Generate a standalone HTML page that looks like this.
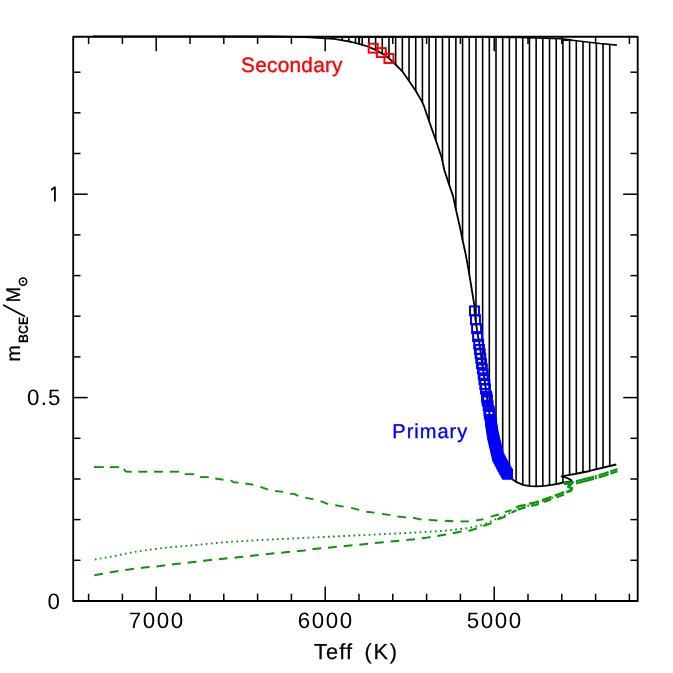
<!DOCTYPE html>
<html><head><meta charset="utf-8"><title>plot</title>
<style>
html,body{margin:0;padding:0;background:#fff;}
body{width:673px;height:673px;overflow:hidden;}
svg{display:block;font-family:"Liberation Sans",sans-serif;text-rendering:geometricPrecision;will-change:transform;}
</style></head><body>
<svg width="673" height="673" viewBox="0 0 673 673">
<rect width="673" height="673" fill="#fff"/>

<g stroke="#000" stroke-width="1.6" fill="none">
<line x1="342.14" y1="36.9" x2="342.14" y2="40.2"/>
<line x1="348.83" y1="36.9" x2="348.83" y2="41.5"/>
<line x1="355.52" y1="36.9" x2="355.52" y2="43.0"/>
<line x1="362.21" y1="36.9" x2="362.21" y2="44.8"/>
<line x1="368.90" y1="36.9" x2="368.90" y2="47.0"/>
<line x1="375.59" y1="36.9" x2="375.59" y2="50.0"/>
<line x1="382.28" y1="36.9" x2="382.28" y2="53.7"/>
<line x1="388.97" y1="36.9" x2="388.97" y2="58.3"/>
<line x1="395.66" y1="36.9" x2="395.66" y2="64.7"/>
<line x1="402.35" y1="36.9" x2="402.35" y2="71.4"/>
<line x1="409.04" y1="36.9" x2="409.04" y2="81.0"/>
<line x1="415.73" y1="36.9" x2="415.73" y2="90.8"/>
<line x1="422.42" y1="36.9" x2="422.42" y2="102.6"/>
<line x1="429.11" y1="36.9" x2="429.11" y2="121.2"/>
<line x1="435.80" y1="36.9" x2="435.80" y2="140.3"/>
<line x1="442.49" y1="37.0" x2="442.49" y2="161.1"/>
<line x1="449.18" y1="37.0" x2="449.18" y2="184.8"/>
<line x1="455.87" y1="37.0" x2="455.87" y2="209.5"/>
<line x1="462.56" y1="37.0" x2="462.56" y2="240.0"/>
<line x1="469.25" y1="37.0" x2="469.25" y2="274.1"/>
<line x1="475.94" y1="37.0" x2="475.94" y2="322.8"/>
<line x1="482.63" y1="37.0" x2="482.63" y2="366.5"/>
<line x1="489.32" y1="37.1" x2="489.32" y2="412.4"/>
<line x1="496.01" y1="37.2" x2="496.01" y2="446.6"/>
<line x1="502.70" y1="37.3" x2="502.70" y2="463.8"/>
<line x1="509.39" y1="37.4" x2="509.39" y2="476.2"/>
<line x1="516.08" y1="37.5" x2="516.08" y2="481.9"/>
<line x1="522.77" y1="37.6" x2="522.77" y2="484.7"/>
<line x1="529.46" y1="37.8" x2="529.46" y2="486.1"/>
<line x1="536.15" y1="38.0" x2="536.15" y2="486.4"/>
<line x1="542.84" y1="38.1" x2="542.84" y2="486.0"/>
<line x1="549.53" y1="38.4" x2="549.53" y2="485.2"/>
<line x1="556.22" y1="38.6" x2="556.22" y2="484.0"/>
<line x1="562.91" y1="39.0" x2="562.91" y2="482.6"/>
<line x1="569.60" y1="39.7" x2="569.60" y2="474.8"/>
<line x1="576.29" y1="40.6" x2="576.29" y2="473.7"/>
<line x1="582.98" y1="41.4" x2="582.98" y2="472.4"/>
<line x1="589.67" y1="42.2" x2="589.67" y2="471.0"/>
<line x1="596.36" y1="43.0" x2="596.36" y2="469.3"/>
<line x1="603.05" y1="43.8" x2="603.05" y2="467.7"/>
<line x1="609.74" y1="44.4" x2="609.74" y2="466.1"/>
<line x1="359.30" y1="36.9" x2="359.30" y2="43.9"/>
</g>
<polyline points="93.0,36.4 200.0,36.4 270.0,36.5 295.0,36.9 310.0,37.4 318.0,37.8 325.0,38.4 333.9,38.9 342.8,40.3 351.7,42.0 360.7,44.3 367.8,46.5 374.9,49.6 383.8,54.5 389.0,58.3 394.0,63.0 402.3,71.3 407.7,79.0 415.7,90.7 421.9,101.4 424.2,106.7 428.4,119.2 435.3,138.8 441.9,158.2 444.3,170.0 448.7,183.4 453.0,195.9 455.4,207.4 460.3,228.8 462.4,239.3 465.7,254.2 468.9,272.0 474.5,306.2 474.5,310.9 475.5,319.7 476.8,328.8 478.1,336.6 479.1,341.8 479.8,346.0 480.4,350.1 481.0,354.8 481.6,359.5 482.3,364.2 486.0,390.0 489.7,415.0 493.0,435.8 498.8,456.6 505.5,469.0 507.6,474.3 512.5,479.6 516.6,482.2 522.9,484.8 530.2,486.2 537.4,486.4 544.7,485.9 552.0,484.8 559.3,483.5 563.1,482.6 567.5,481.9 570.4,481.4 571.4,480.6 570.8,479.8 568.6,478.7 565.5,477.5 561.6,476.3 569.6,474.8 574.7,474.0 589.8,471.0 592.6,470.2 616.3,464.5" fill="none" stroke="#000" stroke-width="1.8" stroke-linejoin="round"/>
<polyline points="330.0,36.9 400.0,36.9 480.0,37.0 520.0,37.5 545.0,38.2 561.0,38.8 568.0,39.6 571.0,39.9 563.5,40.1 572.0,40.2 600.0,43.5 616.9,45.1" fill="none" stroke="#000" stroke-width="1.6" stroke-linejoin="round"/>
<g fill="none" stroke="#0a960a" stroke-linejoin="round">
<polyline points="93.9,467.1 103.8,467.1" stroke-width="1.9"/>
<polyline points="109.8,467.1 119.2,467.1" stroke-width="1.9"/>
<polyline points="124.0,468.8 125.6,471.6 131.7,471.7" stroke-width="1.9"/>
<polyline points="138.3,471.7 147.4,471.7" stroke-width="1.9"/>
<polyline points="154.0,471.7 162.9,471.7" stroke-width="1.9"/>
<polyline points="169.7,471.7 179.0,471.7" stroke-width="1.9"/>
<polyline points="184.7,474.1 194.1,474.3" stroke-width="1.9"/>
<polyline points="199.8,477.1 208.7,477.1" stroke-width="1.9"/>
<polyline points="215.3,478.5 223.5,479.8" stroke-width="1.9"/>
<polyline points="230.7,480.3 233.5,482.2 238.5,482.6" stroke-width="1.9"/>
<polyline points="245.3,483.5 253.3,484.8" stroke-width="1.9"/>
<polyline points="260.4,486.9 268.1,489.6" stroke-width="1.9"/>
<polyline points="275.2,491.0 283.1,491.9" stroke-width="1.9"/>
<polyline points="290.2,493.7 294.0,493.9 298.2,495.8" stroke-width="1.9"/>
<polyline points="305.3,497.6 313.4,499.4" stroke-width="1.9"/>
<polyline points="320.5,501.2 328.2,504.2" stroke-width="1.9"/>
<polyline points="335.3,505.3 343.7,506.6" stroke-width="1.9"/>
<polyline points="351.2,507.8 359.2,509.9" stroke-width="1.9"/>
<polyline points="366.3,511.7 374.5,512.6" stroke-width="1.9"/>
<polyline points="382.0,513.9 390.4,515.1" stroke-width="1.9"/>
<polyline points="397.5,516.5 406.1,517.4" stroke-width="1.9"/>
<polyline points="413.2,517.8 421.6,519.6" stroke-width="1.9"/>
<polyline points="428.7,519.9 437.6,520.5" stroke-width="1.9"/>
<polyline points="444.8,520.8 453.3,521.2" stroke-width="1.9"/>
<polyline points="460.5,521.4 468.8,521.4" stroke-width="1.9"/>
<polyline points="476.0,520.4 483.4,519.2" stroke-width="1.9"/>
<polyline points="490.7,516.6 498.8,514.5" stroke-width="1.9"/>
<polyline points="504.8,512.1 511.5,510.1" stroke-width="1.9"/>
<polyline points="94.8,559.6 115.7,555.7 133.5,552.1 151.3,549.4 169.2,547.3 187.0,545.9 200.0,544.6 225.7,542.1 261.3,540.0 305.9,537.8 340.0,536.2 380.0,534.3 417.7,532.4 445.7,530.6 468.8,528.0 481.3,525.3 488.5,522.6 496.0,519.0 504.8,515.2 511.5,512.4 519.9,508.2 535.5,503.7 548.0,499.2 559.9,495.0 566.2,492.3" stroke-width="1.9" stroke-dasharray="1.7 3.4"/>
<polyline points="94.3,575.3 113.9,571.7 129.0,569.4 144.2,567.6 160.2,566.0 175.4,564.0 191.4,562.3 207.8,560.3 238.1,557.3 270.2,553.7 304.1,550.5 310.7,549.3 350.0,545.6 380.0,542.6 414.1,539.2 427.8,537.4 445.7,534.6 461.7,531.5 470.0,530.5 476.0,528.8 482.7,526.1 490.7,523.5 496.0,519.9 504.8,516.8 510.1,513.4 514.2,511.3 516.5,510.4" stroke-width="2.05" stroke-dasharray="8.8 6.9"/>
<polyline points="516.2,507.4 519.9,505.9 524.8,505.0 535.5,502.4 548.0,498.0 559.9,493.8 566.2,491.0" stroke-width="2.25" stroke-dasharray="10 3.5"/>
<polyline points="518.3,509.8 522.0,508.2 535.5,505.0 548.0,500.4 559.4,496.2 566.2,493.6" stroke-width="2.25" stroke-dasharray="7.8 5.7"/>
<polyline points="563.9,483.5 572.6,482.4 568.4,486.8 572.0,488.3 570.4,490.9 566.4,492.0" stroke-width="2.8"/>
<polyline points="575.9,481.3 592.6,477.1 604.5,473.5 617.5,469.0" stroke-width="2.2" stroke-dasharray="18.8 1.0 1.8 1.8 10.6 1.8 7.6 10"/>
<polyline points="575.9,483.5 592.6,479.3 604.5,475.7 617.5,471.2" stroke-width="2.2" stroke-dasharray="18.8 1.0 1.8 1.8 10.6 1.8 7.6 10"/>
</g>
<rect x="73.2" y="36.7" width="564.5" height="564.3" fill="none" stroke="#000" stroke-width="1.85" stroke-linejoin="round"/>
<g stroke="#000" stroke-width="1.5">
<line x1="88.6" y1="601.0" x2="88.6" y2="593.7"/><line x1="88.6" y1="36.7" x2="88.6" y2="44.0"/>
<line x1="122.4" y1="601.0" x2="122.4" y2="593.7"/><line x1="122.4" y1="36.7" x2="122.4" y2="44.0"/>
<line x1="156.2" y1="601.0" x2="156.2" y2="586.5"/><line x1="156.2" y1="36.7" x2="156.2" y2="51.2"/>
<line x1="190.0" y1="601.0" x2="190.0" y2="593.7"/><line x1="190.0" y1="36.7" x2="190.0" y2="44.0"/>
<line x1="223.8" y1="601.0" x2="223.8" y2="593.7"/><line x1="223.8" y1="36.7" x2="223.8" y2="44.0"/>
<line x1="257.6" y1="601.0" x2="257.6" y2="593.7"/><line x1="257.6" y1="36.7" x2="257.6" y2="44.0"/>
<line x1="291.4" y1="601.0" x2="291.4" y2="593.7"/><line x1="291.4" y1="36.7" x2="291.4" y2="44.0"/>
<line x1="325.2" y1="601.0" x2="325.2" y2="586.5"/><line x1="325.2" y1="36.7" x2="325.2" y2="51.2"/>
<line x1="359.0" y1="601.0" x2="359.0" y2="593.7"/><line x1="359.0" y1="36.7" x2="359.0" y2="44.0"/>
<line x1="392.8" y1="601.0" x2="392.8" y2="593.7"/><line x1="392.8" y1="36.7" x2="392.8" y2="44.0"/>
<line x1="426.6" y1="601.0" x2="426.6" y2="593.7"/><line x1="426.6" y1="36.7" x2="426.6" y2="44.0"/>
<line x1="460.4" y1="601.0" x2="460.4" y2="593.7"/><line x1="460.4" y1="36.7" x2="460.4" y2="44.0"/>
<line x1="494.2" y1="601.0" x2="494.2" y2="586.5"/><line x1="494.2" y1="36.7" x2="494.2" y2="51.2"/>
<line x1="528.0" y1="601.0" x2="528.0" y2="593.7"/><line x1="528.0" y1="36.7" x2="528.0" y2="44.0"/>
<line x1="561.8" y1="601.0" x2="561.8" y2="593.7"/><line x1="561.8" y1="36.7" x2="561.8" y2="44.0"/>
<line x1="595.6" y1="601.0" x2="595.6" y2="593.7"/><line x1="595.6" y1="36.7" x2="595.6" y2="44.0"/>
<line x1="629.4" y1="601.0" x2="629.4" y2="593.7"/><line x1="629.4" y1="36.7" x2="629.4" y2="44.0"/>
<line x1="73.2" y1="560.3" x2="80.5" y2="560.3"/><line x1="637.7" y1="560.3" x2="630.4000000000001" y2="560.3"/>
<line x1="73.2" y1="519.6" x2="80.5" y2="519.6"/><line x1="637.7" y1="519.6" x2="630.4000000000001" y2="519.6"/>
<line x1="73.2" y1="479.0" x2="80.5" y2="479.0"/><line x1="637.7" y1="479.0" x2="630.4000000000001" y2="479.0"/>
<line x1="73.2" y1="438.3" x2="80.5" y2="438.3"/><line x1="637.7" y1="438.3" x2="630.4000000000001" y2="438.3"/>
<line x1="73.2" y1="397.6" x2="87.7" y2="397.6"/><line x1="637.7" y1="397.6" x2="623.2" y2="397.6"/>
<line x1="73.2" y1="356.9" x2="80.5" y2="356.9"/><line x1="637.7" y1="356.9" x2="630.4000000000001" y2="356.9"/>
<line x1="73.2" y1="316.2" x2="80.5" y2="316.2"/><line x1="637.7" y1="316.2" x2="630.4000000000001" y2="316.2"/>
<line x1="73.2" y1="275.6" x2="80.5" y2="275.6"/><line x1="637.7" y1="275.6" x2="630.4000000000001" y2="275.6"/>
<line x1="73.2" y1="234.9" x2="80.5" y2="234.9"/><line x1="637.7" y1="234.9" x2="630.4000000000001" y2="234.9"/>
<line x1="73.2" y1="194.2" x2="87.7" y2="194.2"/><line x1="637.7" y1="194.2" x2="623.2" y2="194.2"/>
<line x1="73.2" y1="153.5" x2="80.5" y2="153.5"/><line x1="637.7" y1="153.5" x2="630.4000000000001" y2="153.5"/>
<line x1="73.2" y1="112.8" x2="80.5" y2="112.8"/><line x1="637.7" y1="112.8" x2="630.4000000000001" y2="112.8"/>
<line x1="73.2" y1="72.2" x2="80.5" y2="72.2"/><line x1="637.7" y1="72.2" x2="630.4000000000001" y2="72.2"/>
</g>
<rect x="368.7" y="43.7" width="8.95" height="8.95" fill="none" stroke="#ff0000" stroke-width="2.0"/>
<rect x="376.9" y="48.1" width="8.95" height="8.95" fill="none" stroke="#ff0000" stroke-width="2.0"/>
<rect x="384.5" y="54.0" width="8.95" height="8.95" fill="none" stroke="#ff0000" stroke-width="2.0"/>
<polyline points="490.5,420.0 493.0,435.8 497.9,456.6 504.4,469.0 507.6,474.3" fill="none" stroke="#0000ff" stroke-width="9.6" stroke-linejoin="round"/>
<rect x="470.0" y="306.4" width="8.95" height="8.95" fill="none" stroke="#0000ff" stroke-width="2.0"/>
<rect x="471.0" y="315.2" width="8.95" height="8.95" fill="none" stroke="#0000ff" stroke-width="2.0"/>
<rect x="472.1" y="324.3" width="8.95" height="8.95" fill="none" stroke="#0000ff" stroke-width="2.0"/>
<rect x="473.1" y="332.1" width="8.95" height="8.95" fill="none" stroke="#0000ff" stroke-width="2.0"/>
<rect x="474.2" y="339.7" width="8.95" height="8.95" fill="none" stroke="#0000ff" stroke-width="2.0"/>
<rect x="475.0" y="345.0" width="8.95" height="8.95" fill="none" stroke="#0000ff" stroke-width="2.0"/>
<rect x="475.7" y="349.4" width="8.95" height="8.95" fill="none" stroke="#0000ff" stroke-width="2.0"/>
<rect x="476.3" y="353.8" width="8.95" height="8.95" fill="none" stroke="#0000ff" stroke-width="2.0"/>
<rect x="477.0" y="359.1" width="8.95" height="8.95" fill="none" stroke="#0000ff" stroke-width="2.0"/>
<rect x="477.9" y="364.4" width="8.95" height="8.95" fill="none" stroke="#0000ff" stroke-width="2.0"/>
<rect x="478.7" y="369.8" width="8.95" height="8.95" fill="none" stroke="#0000ff" stroke-width="2.0"/>
<rect x="479.5" y="375.1" width="8.95" height="8.95" fill="none" stroke="#0000ff" stroke-width="2.0"/>
<rect x="480.3" y="380.0" width="8.95" height="8.95" fill="none" stroke="#0000ff" stroke-width="2.0"/>
<rect x="481.0" y="384.5" width="8.95" height="8.95" fill="none" stroke="#0000ff" stroke-width="2.0"/>
<rect x="482.1" y="391.7" width="8.95" height="8.95" fill="none" stroke="#0000ff" stroke-width="2.0"/>
<rect x="482.4" y="393.3" width="8.95" height="8.95" fill="none" stroke="#0000ff" stroke-width="2.0"/>
<rect x="482.7" y="394.9" width="8.95" height="8.95" fill="none" stroke="#0000ff" stroke-width="2.0"/>
<rect x="482.9" y="396.5" width="8.95" height="8.95" fill="none" stroke="#0000ff" stroke-width="2.0"/>
<rect x="483.7" y="401.3" width="8.95" height="8.95" fill="none" stroke="#0000ff" stroke-width="2.0"/>
<rect x="484.5" y="406.1" width="8.95" height="8.95" fill="none" stroke="#0000ff" stroke-width="2.0"/>
<rect x="484.8" y="407.7" width="8.95" height="8.95" fill="none" stroke="#0000ff" stroke-width="2.0"/>
<rect x="485.0" y="409.3" width="8.95" height="8.95" fill="none" stroke="#0000ff" stroke-width="2.0"/>
<rect x="485.3" y="410.9" width="8.95" height="8.95" fill="none" stroke="#0000ff" stroke-width="2.0"/>
<rect x="486.1" y="415.7" width="8.95" height="8.95" fill="none" stroke="#0000ff" stroke-width="2.0"/>
<rect x="486.3" y="417.3" width="8.95" height="8.95" fill="none" stroke="#0000ff" stroke-width="2.0"/>
<rect x="486.6" y="418.9" width="8.95" height="8.95" fill="none" stroke="#0000ff" stroke-width="2.0"/>
<rect x="486.8" y="420.5" width="8.95" height="8.95" fill="none" stroke="#0000ff" stroke-width="2.0"/>
<rect x="487.1" y="422.1" width="8.95" height="8.95" fill="none" stroke="#0000ff" stroke-width="2.0"/>
<rect x="487.3" y="423.7" width="8.95" height="8.95" fill="none" stroke="#0000ff" stroke-width="2.0"/>
<rect x="487.6" y="425.3" width="8.95" height="8.95" fill="none" stroke="#0000ff" stroke-width="2.0"/>
<rect x="487.8" y="426.9" width="8.95" height="8.95" fill="none" stroke="#0000ff" stroke-width="2.0"/>
<rect x="488.1" y="428.5" width="8.95" height="8.95" fill="none" stroke="#0000ff" stroke-width="2.0"/>
<rect x="488.3" y="430.1" width="8.95" height="8.95" fill="none" stroke="#0000ff" stroke-width="2.0"/>
<rect x="488.6" y="431.7" width="8.95" height="8.95" fill="none" stroke="#0000ff" stroke-width="2.0"/>
<rect x="489.0" y="433.3" width="8.95" height="8.95" fill="none" stroke="#0000ff" stroke-width="2.0"/>
<rect x="489.4" y="434.9" width="8.95" height="8.95" fill="none" stroke="#0000ff" stroke-width="2.0"/>
<rect x="489.8" y="436.5" width="8.95" height="8.95" fill="none" stroke="#0000ff" stroke-width="2.0"/>
<rect x="490.1" y="438.1" width="8.95" height="8.95" fill="none" stroke="#0000ff" stroke-width="2.0"/>
<rect x="490.5" y="439.7" width="8.95" height="8.95" fill="none" stroke="#0000ff" stroke-width="2.0"/>
<rect x="490.9" y="441.3" width="8.95" height="8.95" fill="none" stroke="#0000ff" stroke-width="2.0"/>
<rect x="491.3" y="442.9" width="8.95" height="8.95" fill="none" stroke="#0000ff" stroke-width="2.0"/>
<rect x="491.6" y="444.5" width="8.95" height="8.95" fill="none" stroke="#0000ff" stroke-width="2.0"/>
<rect x="492.0" y="446.1" width="8.95" height="8.95" fill="none" stroke="#0000ff" stroke-width="2.0"/>
<rect x="492.4" y="447.7" width="8.95" height="8.95" fill="none" stroke="#0000ff" stroke-width="2.0"/>
<rect x="492.8" y="449.3" width="8.95" height="8.95" fill="none" stroke="#0000ff" stroke-width="2.0"/>
<rect x="493.1" y="450.9" width="8.95" height="8.95" fill="none" stroke="#0000ff" stroke-width="2.0"/>
<rect x="493.6" y="452.5" width="8.95" height="8.95" fill="none" stroke="#0000ff" stroke-width="2.0"/>
<rect x="494.5" y="454.1" width="8.95" height="8.95" fill="none" stroke="#0000ff" stroke-width="2.0"/>
<rect x="495.3" y="455.7" width="8.95" height="8.95" fill="none" stroke="#0000ff" stroke-width="2.0"/>
<rect x="496.2" y="457.3" width="8.95" height="8.95" fill="none" stroke="#0000ff" stroke-width="2.0"/>
<rect x="497.0" y="458.9" width="8.95" height="8.95" fill="none" stroke="#0000ff" stroke-width="2.0"/>
<rect x="497.8" y="460.5" width="8.95" height="8.95" fill="none" stroke="#0000ff" stroke-width="2.0"/>
<rect x="498.7" y="462.1" width="8.95" height="8.95" fill="none" stroke="#0000ff" stroke-width="2.0"/>
<rect x="499.5" y="463.7" width="8.95" height="8.95" fill="none" stroke="#0000ff" stroke-width="2.0"/>
<rect x="500.4" y="465.3" width="8.95" height="8.95" fill="none" stroke="#0000ff" stroke-width="2.0"/>
<rect x="501.4" y="466.9" width="8.95" height="8.95" fill="none" stroke="#0000ff" stroke-width="2.0"/>
<rect x="502.3" y="468.5" width="8.95" height="8.95" fill="none" stroke="#0000ff" stroke-width="2.0"/>
<rect x="503.1" y="469.8" width="8.95" height="8.95" fill="none" stroke="#0000ff" stroke-width="2.0"/>
<g font-size="22.3" fill="#000">
<text x="156.8" y="628.0" text-anchor="middle" letter-spacing="1.6">7000</text>
<text x="325.8" y="628.0" text-anchor="middle" letter-spacing="1.6">6000</text>
<text x="494.8" y="628.0" text-anchor="middle" letter-spacing="1.6">5000</text>
<text x="61.7" y="405.3" text-anchor="end" letter-spacing="1.2">0.5</text>
<polyline points="51.7,189.5 54.9,187.1 54.9,200.8" fill="none" stroke="#000" stroke-width="1.8" stroke-linecap="round" stroke-linejoin="round"/>
<text x="59.9" y="609.0" text-anchor="end">0</text>
</g>
<text x="314" y="659.3" font-size="21.7" letter-spacing="1.15" stroke="#000" stroke-width="0.25">Teff</text>
<text x="364.4" y="659.3" font-size="21.7" letter-spacing="1.8" stroke="#000" stroke-width="0.25">(K)</text>
<text x="241.1" y="72.4" font-size="20.8" fill="#ff0000" letter-spacing="0.25" stroke="#ff0000" stroke-width="0.35">Secondary</text>
<text x="392.3" y="438.2" font-size="20" fill="#0000ff" letter-spacing="1.0" stroke="#0000ff" stroke-width="0.35">Primary</text>
<g transform="translate(20.1,361.6) rotate(-90)">
<text x="0" y="0" font-size="19.6" stroke="#000" stroke-width="0.3">m</text>
<text x="0" y="0" font-size="13.6" font-weight="bold" transform="translate(18.6,7.8) scale(0.915,1)">BCE</text>
<line x1="45.3" y1="4.4" x2="56.4" y2="-16.4" stroke="#000" stroke-width="1.8" stroke-linecap="round"/>
<text x="0" y="0" font-size="19.8" stroke="#000" stroke-width="0.3" transform="translate(59.4,0) scale(0.93,1)">M</text>
<circle cx="80.0" cy="2.9" r="3.7" fill="none" stroke="#000" stroke-width="1.5"/><circle cx="80.0" cy="2.9" r="1.1" fill="#000"/>
</g>
</svg></body></html>
